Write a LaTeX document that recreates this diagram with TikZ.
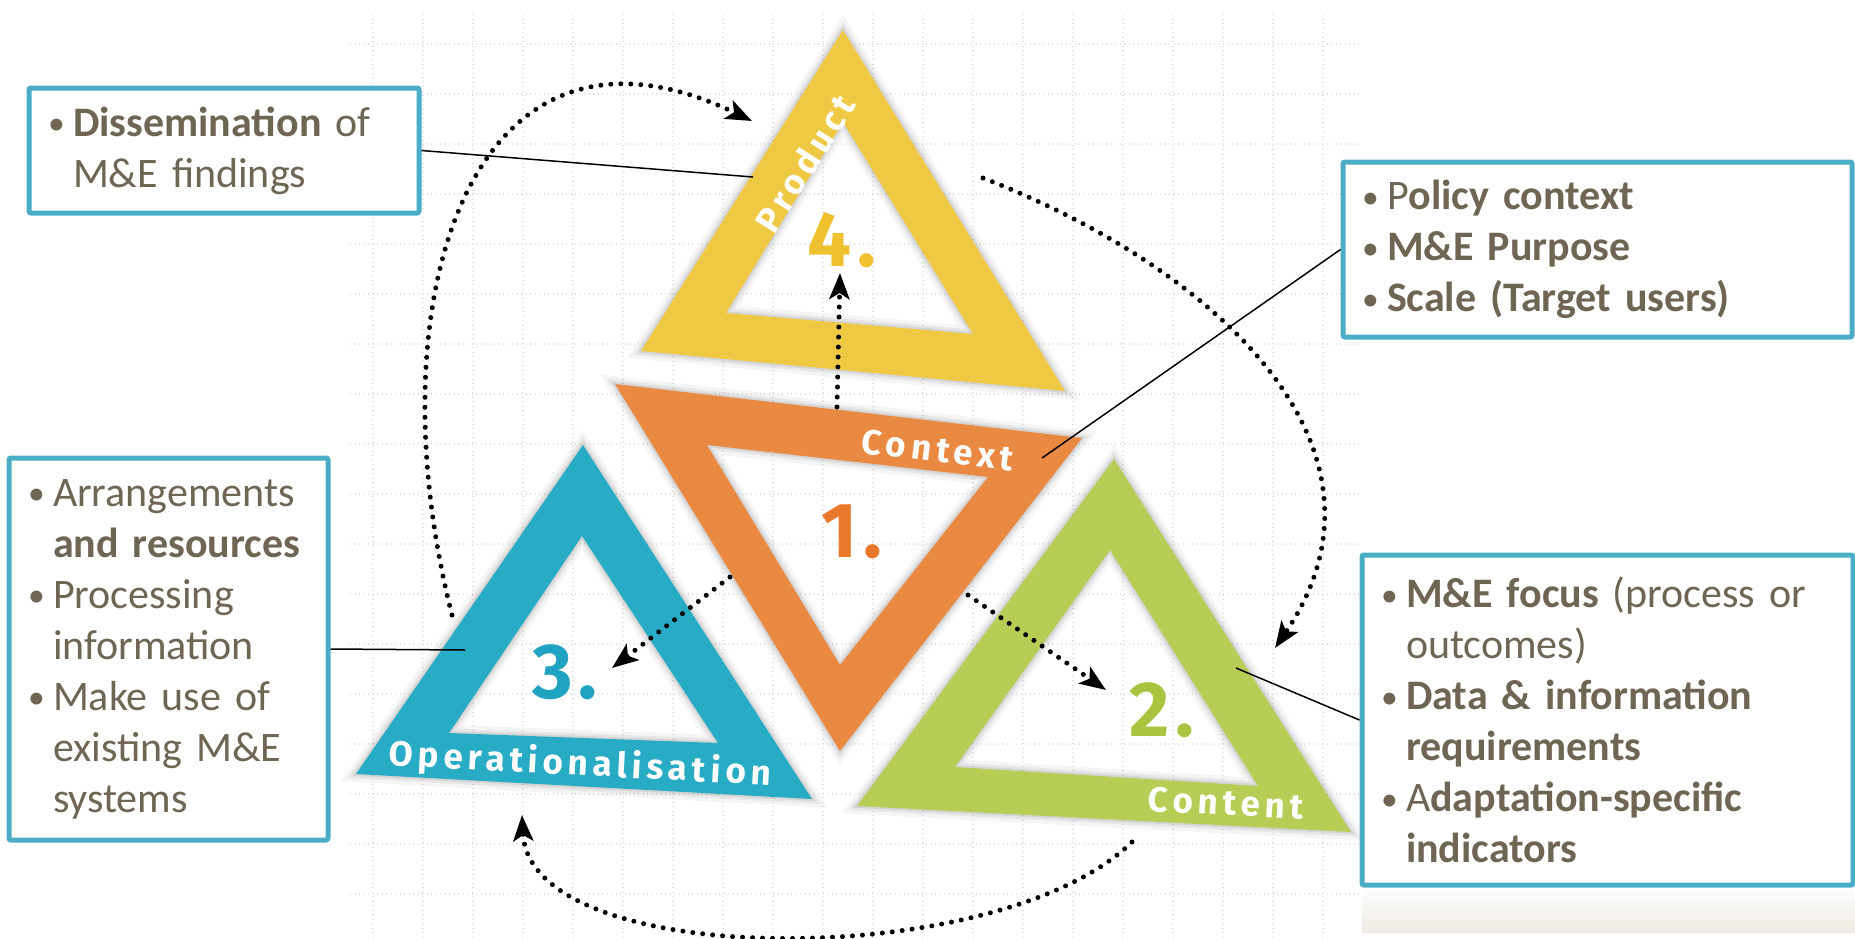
\documentclass[tikz,border=0pt]{standalone}
\usepackage{fontspec}
\usepackage{tikz}
\usetikzlibrary{arrows.meta}

\setmainfont{Carlito}
\newfontfamily\tagfont[LetterSpace=14]{Fira Sans}
\newfontfamily\numfont[LetterSpace=8]{Fira Sans}

\definecolor{trackyellow}{HTML}{F0C944}
\definecolor{trackorange}{HTML}{EA8A42}
\definecolor{trackblue}{HTML}{28ABC5}
\definecolor{trackgreen}{HTML}{B6CE55}
\definecolor{numyellow}{HTML}{F0C12E}
\definecolor{numorange}{HTML}{E9782B}
\definecolor{numblue}{HTML}{1FA3C1}
\definecolor{numgreen}{HTML}{A9C53F}
\definecolor{noteframe}{HTML}{4BACC6}
\definecolor{notetext}{HTML}{6E6553}
\definecolor{gridgray}{HTML}{E0E0E0}
\definecolor{foot}{HTML}{EFEBE4}

\newcommand{\bp}{\makebox[22pt][l]{\hspace{-3pt}\raisebox{1.5pt}{\scalebox{0.8}{\textbullet}}}}
\newcommand{\ind}{\hspace*{22pt}}

\begin{document}
\begin{tikzpicture}[x=1pt,y=-1pt,
	gridline/.style={gridgray, line width=1.3pt, dash pattern=on 1.3pt off 3.2pt},
	ring/.style={fill=#1, even odd rule, line join=round,
		preaction={draw=black, opacity=.04, line width=16pt},
		preaction={draw=black, opacity=.06, line width=9pt},
		preaction={draw=black, opacity=.08, line width=4pt}},
	tag/.style={text=white, inner sep=0pt, font=\tagfont\bfseries\fontsize{35}{35}\selectfont},
	num/.style={text=#1, inner sep=0pt, font=\numfont\bfseries\fontsize{78}{78}\selectfont},
	flow/.style={line width=5pt, line cap=round, dash pattern=on 0pt off 10pt,
		-{Stealth[length=26pt,width=20pt,inset=6pt]}},
	leader/.style={line width=1.5pt},
	note/.style={draw=noteframe, line width=5pt, fill=white, rounded corners=2pt,
		inner xsep=22pt, align=left, text=notetext,
		font=\fontsize{42}{51}\selectfont}]

	\useasboundingbox (0,0) rectangle (1855,938);

	% Draw grid
	\foreach \gx in {373,423,...,1323}
		\draw[gridline] (\gx,14) -- (\gx,938);
	\foreach \gy in {44,94,...,894}
		\draw[gridline] (350,\gy) -- (1360,\gy);
	\shade[top color=white, bottom color=foot] (1362,885) rectangle (1855,932);

	% Triangles
	\path[ring=trackyellow] (843,30) -- (641,351) -- (1065,391) -- cycle
		(843,122) -- (726,313) -- (973,334) -- cycle;
	\path[ring=trackblue] (583,445) -- (356,774) -- (812,799) -- cycle
		(582,536) -- (449,733) -- (718,743) -- cycle;
	\path[ring=trackgreen] (1114,459) -- (857,806) -- (1351,832) -- cycle
		(1110,550) -- (955,767) -- (1258,786) -- cycle;
	\path[ring=trackorange] (615,384) -- (1082,438) -- (840,751) -- cycle
		(707,445) -- (988,477) -- (840,665) -- cycle;

	% Labels
	\node[tag, rotate=57.8] (product) at (805,163) {Product};
	\node[tag, rotate=-6.7] (context) at (938,450) {Context};
	\node[tag, rotate=-3] (operational) at (580,765) {Operationalisation};
	\node[tag, rotate=-3] (content) at (1226,803) {Content};

	\node[num=numyellow] (four) at (842,240) {4.};
	\node[num=numorange] (one) at (852,532) {1.};
	\node[num=numblue] (three) at (565,672) {3.};
	\node[num=numgreen] (two) at (1162,710) {2.};

	% Dotted arrows
	\coordinate (upfrom) at (837,407);
	\coordinate (upto) at (840,273);
	\coordinate (leftfrom) at (730,577);
	\coordinate (leftto) at (612,668);
	\coordinate (rightfrom) at (968,595);
	\coordinate (rightto) at (1106,690);
	\draw[flow] (upfrom) -- (upto);
	\draw[flow] (leftfrom) -- (leftto);
	\draw[flow] (rightfrom) -- (rightto);

	\coordinate (loopa) at (452,615);
	\coordinate (loopb) at (752,121);
	\coordinate (loopc) at (983,178);
	\coordinate (loopd) at (1275,648);
	\coordinate (loope) at (1132,842);
	\coordinate (loopf) at (522,815);
	\draw[flow] (loopa) .. controls (372,300) and (470,-15) .. (loopb);
	\draw[flow] (loopc) .. controls (1220,270) and (1410,450) .. (loopd);
	\draw[flow] (loope) .. controls (1000,972) and (530,972) .. (loopf);

	% Notes
	\node[note, minimum width=390pt, minimum height=125pt, text width=346pt] (dissem) at (224,150.5)
		{\bp\textbf{Dissemination} of\\\ind M\&E findings};
	\node[note, minimum width=509pt, minimum height=175pt, text width=465pt] (policy) at (1597.5,249.5)
		{\bp P\textbf{olicy context}\\\bp\textbf{M\&E Purpose}\\\bp\textbf{Scale (Target users)}};
	\node[note, minimum width=319pt, minimum height=382pt, text width=275pt] (arrange) at (168.5,649)
		{\bp Arrangements\\\ind\textbf{and resources}\\\bp Processing\\\ind information\\\bp Make use of\\\ind existing M\&E\\\ind systems};
	\node[note, minimum width=491pt, minimum height=330pt, text width=447pt] (focus) at (1607.5,720)
		{\bp\textbf{M\&E focus} (process or\\\ind outcomes)\\\bp\textbf{Data \& information}\\\ind\textbf{requirements}\\\bp A\textbf{daptation-specific}\\\ind\textbf{indicators}};

	% Leaders
	\coordinate (pinfour) at (753,177);
	\coordinate (pinone) at (1042,458);
	\coordinate (pinthree) at (465,650);
	\coordinate (pintwo) at (1236,668);
	\draw[leader] (dissem.east) -- (pinfour);
	\draw[leader] (policy.west) -- (pinone);
	\draw[leader] (arrange.east) -- (pinthree);
	\draw[leader] (focus.west) -- (pintwo);

\end{tikzpicture}
\end{document}
